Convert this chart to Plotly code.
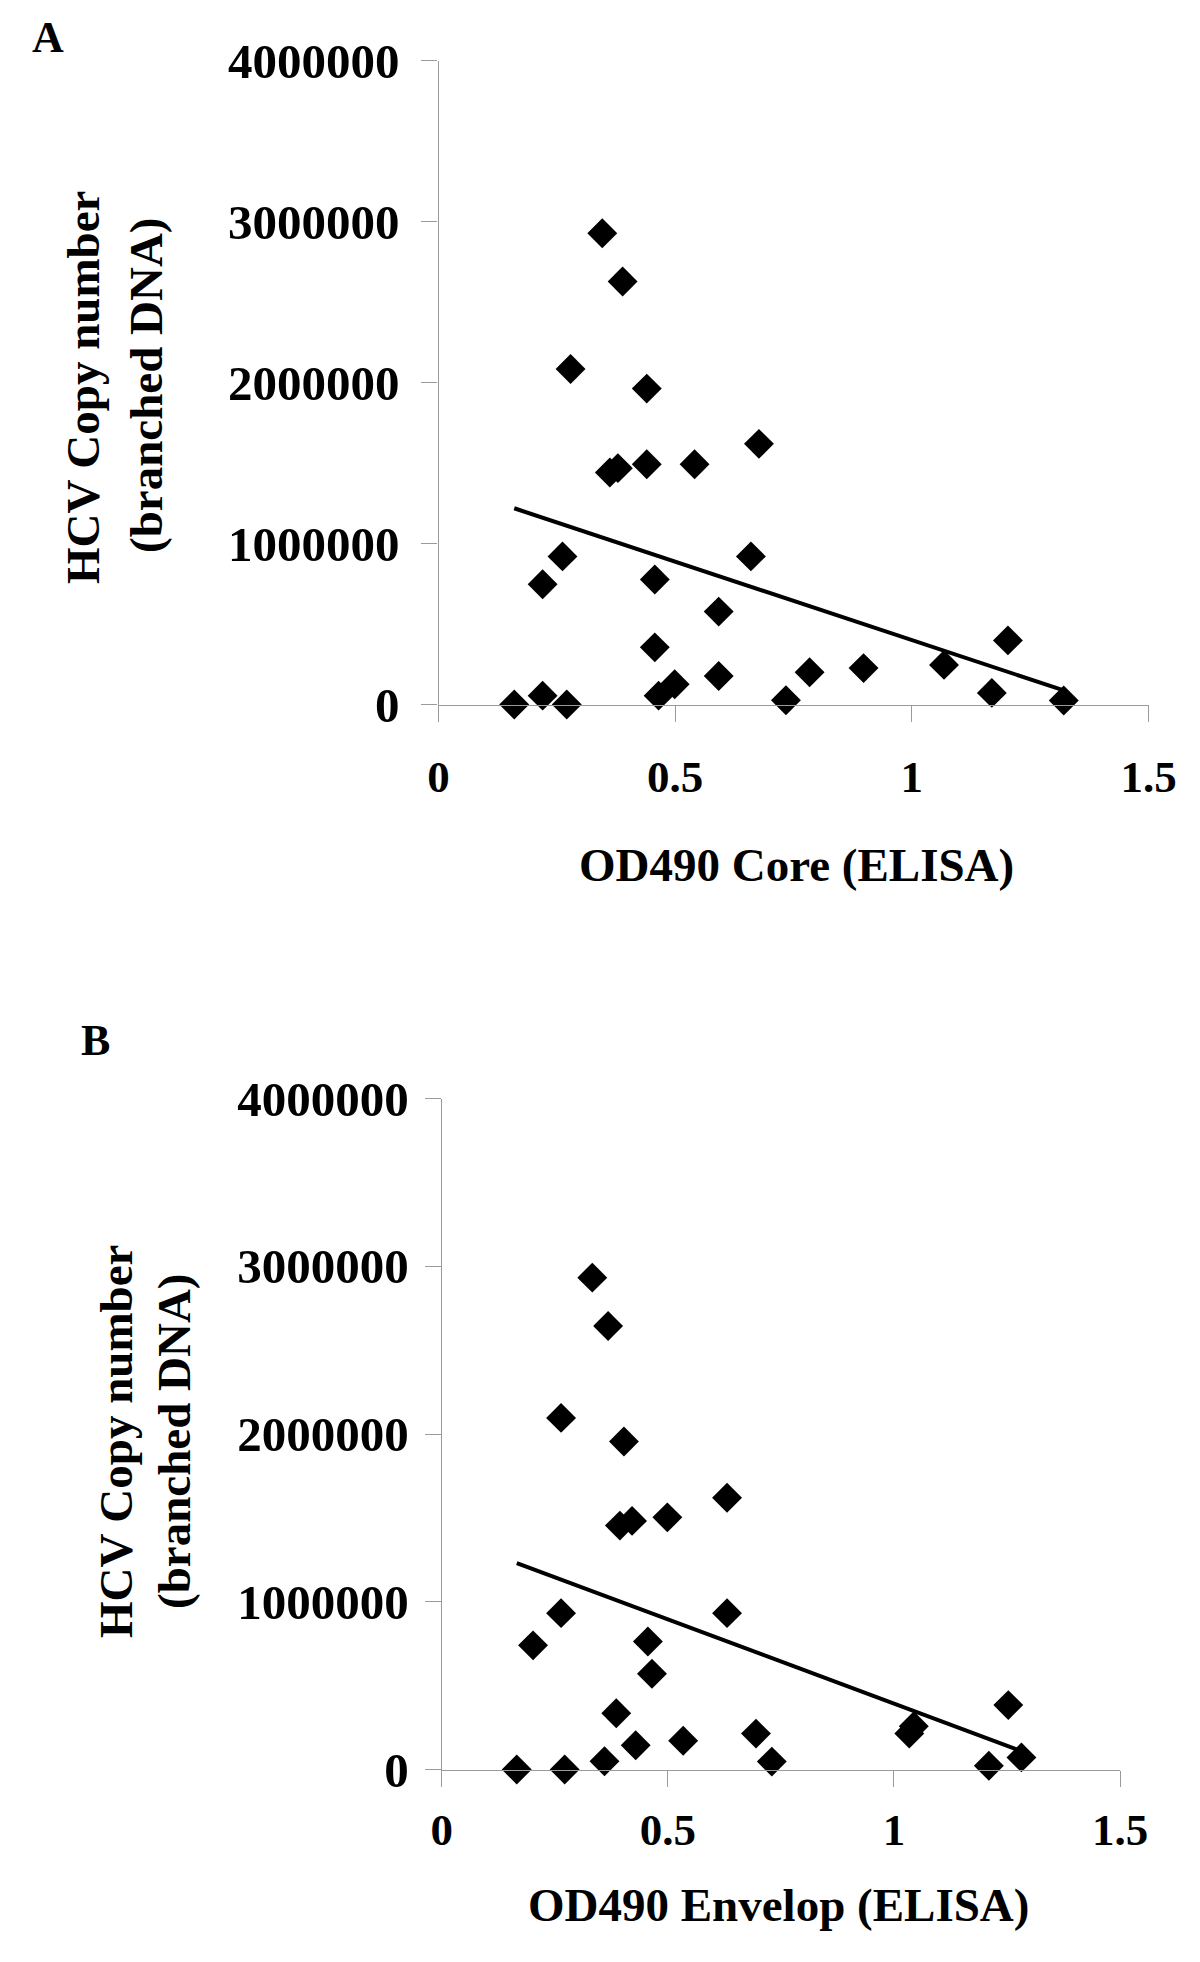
import numpy as np
import plotly.graph_objects as go

# ---------------- data ----------------
core_od = [0.160, 0.220, 0.271, 0.346, 0.389, 0.279, 0.440, 0.362, 0.379, 0.440,
           0.541, 0.677, 0.262, 0.220, 0.457, 0.660, 0.592, 0.457, 0.592, 0.499,
           0.465, 0.734, 0.784, 0.898, 1.068, 1.169, 1.203, 1.321]
core_copies = [0, 55000, 0, 2927000, 2627000, 2084000, 1962000, 1441000, 1468000, 1492000,
               1492000, 1619000, 920000, 747000, 776000, 920000, 577000, 355000, 177000, 126000,
               55000, 26000, 200000, 226000, 246000, 72000, 398000, 25000]

env_od = [0.166, 0.272, 0.360, 0.333, 0.368, 0.264, 0.403, 0.394, 0.421, 0.499,
          0.631, 0.264, 0.202, 0.631, 0.456, 0.465, 0.386, 0.429, 0.534, 0.695,
          0.730, 1.044, 1.034, 1.253, 1.210, 1.282]
env_copies = [0, 0, 49000, 2932000, 2644000, 2096000, 1955000, 1454000, 1482000, 1503000,
              1620000, 932000, 740000, 932000, 763000, 571000, 335000, 145000, 171000, 214000,
              47000, 258000, 215000, 384000, 22000, 72000]

y_tick_vals = [0, 1000000, 2000000, 3000000, 4000000]
y_tick_text = ["0", "1000000", "2000000", "3000000", "4000000"]
x_tick_vals = [0, 0.5, 1, 1.5]
x_tick_text = ["0", "0.5", "1", "1.5"]

panel_labels = ["A", "B"]
x_titles = ["OD490 Core (ELISA)", "OD490 Envelop (ELISA)"]
y_title_lines = ["HCV Copy number", "(branched DNA)"]

# ---------------- layout helpers ----------------
W, H = 1184, 1946
OFF = 8  # default page body margin


def px(x):
    return (x - OFF) / W


def py(y):
    return 1 - (y - OFF) / H


FONT = "Liberation Serif, Times New Roman, serif"
AXIS_GREY = "#9a9a9a"


def trend(xv, yv):
    coef = np.polyfit(xv, yv, 1)
    xs = np.array([min(xv), max(xv)])
    return xs, np.polyval(coef, xs)


fig = go.Figure()

sets = [(core_od, core_copies, "x", "y"), (env_od, env_copies, "x2", "y2")]
for xv, yv, xa, ya in sets:
    fig.add_trace(go.Scatter(
        x=xv, y=yv, mode="markers", xaxis=xa, yaxis=ya,
        marker=dict(symbol="diamond", size=23, color="black"),
        cliponaxis=False, showlegend=False,
    ))
    tx, ty = trend(xv, yv)
    fig.add_trace(go.Scatter(
        x=tx, y=ty, mode="lines", xaxis=xa, yaxis=ya,
        line=dict(color="black", width=4),
        cliponaxis=False, showlegend=False,
    ))


def xaxis_cfg(dom, anchor, standoff):
    return dict(
        domain=dom, anchor=anchor, range=[0, 1.5], automargin=False,
        tickmode="array", tickvals=x_tick_vals, ticktext=x_tick_text,
        showline=True, linecolor=AXIS_GREY, linewidth=1.3,
        ticks="outside", ticklen=16, tickcolor=AXIS_GREY, tickwidth=1.3,
        showgrid=False, zeroline=False,
        tickfont=dict(family=FONT, size=45, color="black", weight="bold"),
        ticklabelstandoff=standoff,
    )


def yaxis_cfg(dom, anchor, standoff):
    return dict(
        domain=dom, anchor=anchor, range=[0, 4000000], automargin=False,
        tickmode="array", tickvals=y_tick_vals, ticktext=y_tick_text,
        showline=True, linecolor=AXIS_GREY, linewidth=1.3,
        ticks="outside", ticklen=16, tickcolor=AXIS_GREY, tickwidth=1.3,
        showgrid=False, zeroline=False,
        tickfont=dict(family=FONT, size=49, color="black", weight="bold"),
        ticklabelstandoff=standoff,
    )


fig.update_layout(
    width=W, height=H,
    margin=dict(l=0, r=0, t=0, b=0, pad=0),
    paper_bgcolor="white", plot_bgcolor="white",
    xaxis=xaxis_cfg([px(438.5), px(1148.5)], "y", 16),
    yaxis=yaxis_cfg([py(704.5), py(60.5)], "x", 12),
    xaxis2=xaxis_cfg([px(441.7), px(1120)], "y2", 4),
    yaxis2=yaxis_cfg([py(1769.5), py(1098.5)], "x2", 6),
)

ann = []
# panel letters
for lab, (x, y) in zip(panel_labels, [(48, 38), (95, 1040)]):
    ann.append(dict(text=lab, x=px(x), y=py(y), xref="paper", yref="paper",
                    showarrow=False, xanchor="center", yanchor="middle",
                    font=dict(family=FONT, size=44, color="black", weight="bold")))
# x titles
for t, (x, y) in zip(x_titles, [(796.5, 865), (778, 1905)]):
    ann.append(dict(text=t, x=px(x), y=py(y), xref="paper", yref="paper",
                    showarrow=False, xanchor="center", yanchor="middle",
                    font=dict(family=FONT, size=47, color="black", weight="bold")))
# y titles (two lines each)
ytitle_pos = [[(83, 388), (146, 385)], [(116, 1442), (174, 1441)]]
for pos in ytitle_pos:
    for line, (x, y) in zip(y_title_lines, pos):
        ann.append(dict(text=line, x=px(x), y=py(y), xref="paper", yref="paper",
                        showarrow=False, xanchor="center", yanchor="middle",
                        textangle=-90,
                        font=dict(family=FONT, size=47, color="black", weight="bold")))
fig.update_layout(annotations=ann)

fig.write_html("out.html")
